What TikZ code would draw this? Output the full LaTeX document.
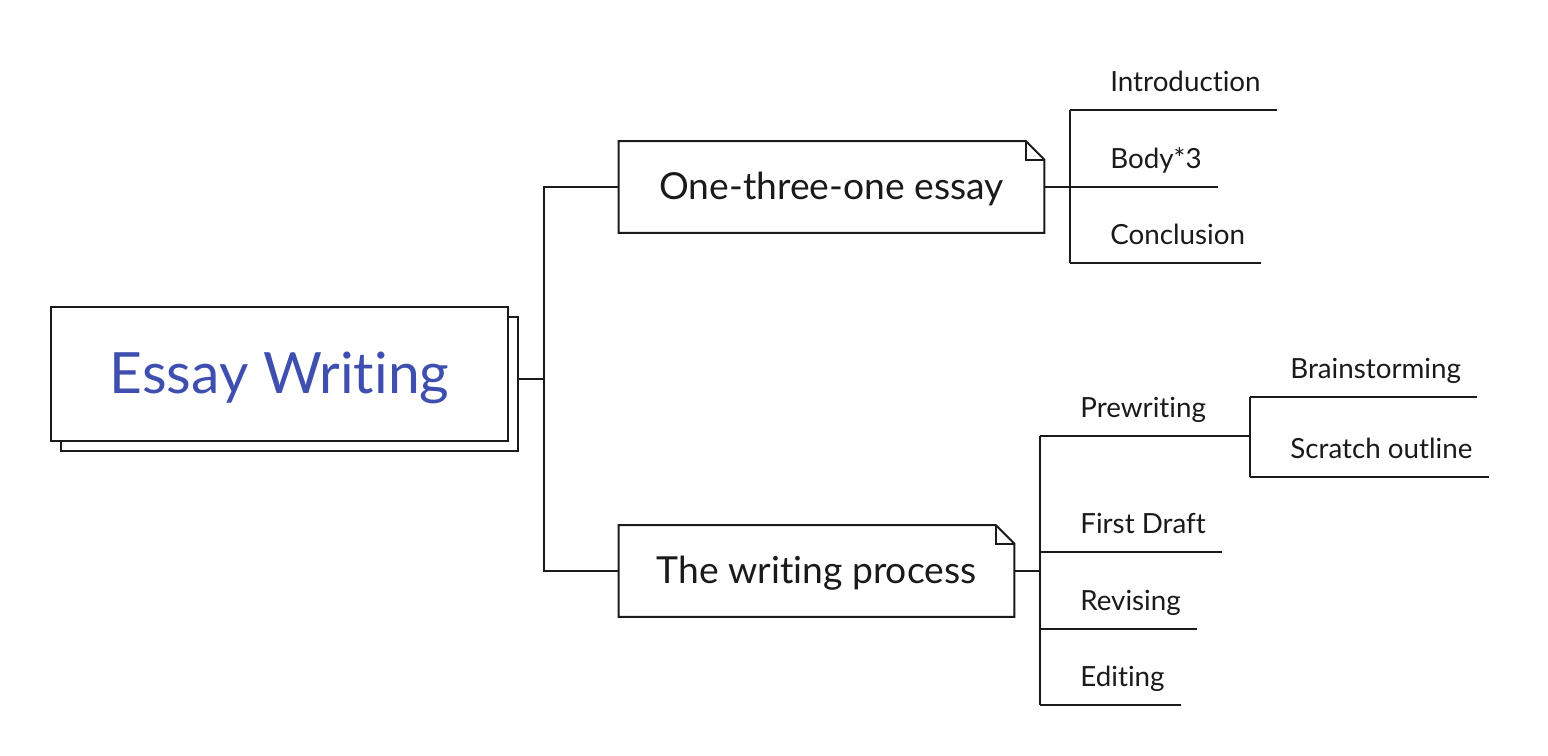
\documentclass[tikz,border=0pt]{standalone}
\usepackage{fontspec}
\setmainfont{Lato}[Ligatures=NoCommon]
\usepackage{tikz}
\usetikzlibrary{calc,positioning,shadows}
\definecolor{inkx}{HTML}{1A1A1A}
\definecolor{rootblue}{HTML}{3F4FAF}
\tikzset{
  link/.style={line width=1.1pt,inkx},
  rootbox/.style={draw=inkx,line width=1.1pt,fill=white,minimum width=9.14cm,minimum height=2.68cm,
    inner sep=0pt,text height=0.8cm,text depth=0pt,text=rootblue,font=\fontsize{32.4}{38}\selectfont,
    copy shadow={shadow xshift=0.2cm,shadow yshift=-0.2cm,draw=inkx,fill=white,line width=1.1pt}},
  topic/.style={inner sep=0pt,minimum height=1.82cm,text height=0.52cm,text depth=0pt,text=inkx,
    font=\fontsize{21.2}{25}\selectfont},
  leaf/.style={anchor=south west,inner sep=0pt,text depth=0.36cm,text=inkx,font=\fontsize{15.8}{19}\selectfont}
}

\begin{document}
\begin{tikzpicture}[x=0.02cm,y=-0.02cm]
\useasboundingbox (0,0) rectangle (1548,756);
% central topic
\node[rootbox] (root) at (279.5,374) {Essay Writing};
\coordinate (j0) at (544,379);
% main topics
\node[topic,minimum width=8.5cm] (b1) at (831.5,187) {One-three-one essay};
\node[topic,minimum width=7.9cm] (b2) at (816.5,571) {The writing process};
\foreach \t in {b1,b2}{
  \draw[link] (\t.south west) -- (\t.north west) -- ([xshift=-0.37cm]\t.north east)
    -- ([yshift=-0.37cm]\t.north east) -- (\t.south east) -- cycle;
  \draw[link] ([xshift=-0.37cm]\t.north east) |- ([yshift=-0.37cm]\t.north east);
}
\draw[link] ([shift={(0.2cm,-0.1cm)}]root.east) -- (j0);
\draw[link] (b1.west) -| (j0) |- (b2.west);
% one-three-one
\coordinate (j1) at (1070,187);
\node[leaf] (intro) at (1110,110) {Introduction};
\node[leaf] (body) at (1110,187) {Body*3};
\node[leaf] (concl) at (1110,263) {Conclusion};
\draw[link] (b1.east) -- (j1);
\draw[link] (j1 |- intro.south) -- (j1 |- concl.south);
\foreach \l in {intro,body,concl}
  \draw[link] (j1 |- \l.south) -- ([xshift=0.32cm]\l.south east);
% writing process
\coordinate (j2) at (1040,571);
\coordinate (j3) at (1250,436);
\node[leaf] (pre) at (1080,436) {Prewriting};
\node[leaf] (draft) at (1080,552) {First Draft};
\node[leaf] (revis) at (1080,629) {Revising};
\node[leaf] (edit) at (1080,705) {Editing};
\draw[link] (b2.east) -- (j2);
\draw[link] (j2 |- pre.south) -- (j2 |- edit.south);
\draw[link] (j2 |- pre.south) -- (j3);
\foreach \l in {draft,revis,edit}
  \draw[link] (j2 |- \l.south) -- ([xshift=0.32cm]\l.south east);
% prewriting
\node[leaf] (brain) at (1290,397) {Brainstorming};
\node[leaf] (scratch) at (1290,477) {Scratch outline};
\draw[link] (j3 |- brain.south) -- (j3 |- scratch.south);
\foreach \l in {brain,scratch}
  \draw[link] (j3 |- \l.south) -- ([xshift=0.32cm]\l.south east);
\end{tikzpicture}
\end{document}
